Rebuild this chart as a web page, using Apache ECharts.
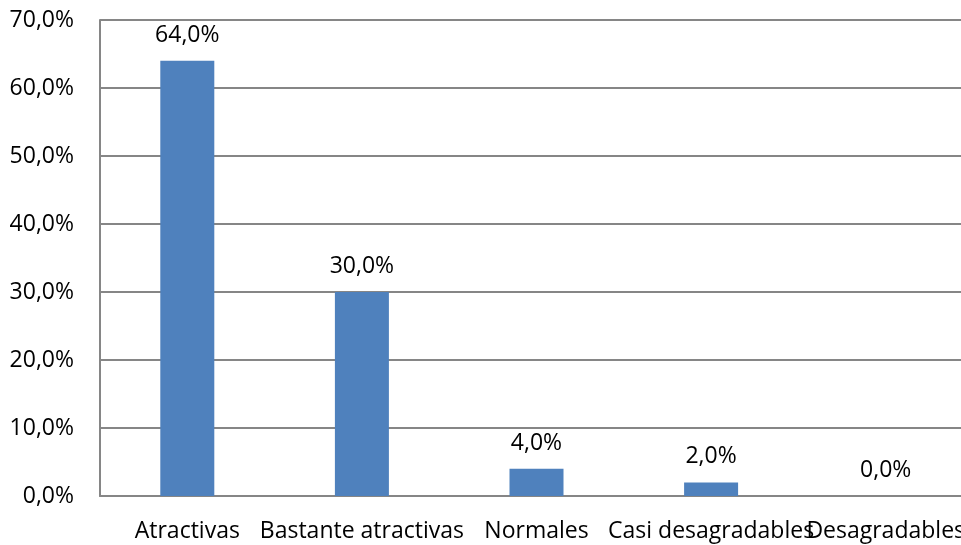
<!DOCTYPE html>
<html>
<head>
<meta charset="utf-8">
<script src="https://cdn.jsdelivr.net/npm/echarts@6/dist/echarts.min.js"></script>
<style>
  html, body { margin: 0; padding: 0; background: #fff; }
  #chart { width: 961px; height: 545px; }
</style>
</head>
<body>
<div id="chart"></div>
<script>
// Survey responses: how attractive the items were rated
const categories = ['Atractivas', 'Bastante atractivas', 'Normales', 'Casi desagradables', 'Desagradables'];
const percentValues = [64.0, 30.0, 4.0, 2.0, 0.0];
const yTicks = [0, 10, 20, 30, 40, 50, 60, 70];

const fmt = v => v.toFixed(1).replace('.', ',') + '%';
const FONT = '"Open Sans", sans-serif';
const FS = 23;

const chart = echarts.init(document.getElementById('chart'), null, { renderer: 'canvas' });
chart.setOption({
  animation: false,
  backgroundColor: '#ffffff',
  // plot area runs slightly past the right edge of the canvas
  grid: { left: 100, width: 873, top: 20, height: 476, outerBoundsMode: 'none' },
  xAxis: {
    type: 'category',
    data: categories,
    axisLine: { lineStyle: { color: '#868686', width: 2 } },
    axisTick: { show: false },
    axisLabel: { color: '#000', fontFamily: FONT, fontSize: FS, margin: 24, interval: 0, hideOverlap: false }
  },
  yAxis: {
    type: 'value',
    min: yTicks[0],
    max: yTicks[yTicks.length - 1],
    interval: 10,
    axisLine: { show: true, lineStyle: { color: '#868686', width: 2 } },
    axisTick: { show: false },
    splitLine: { lineStyle: { color: '#868686', width: 2 } },
    axisLabel: { color: '#000', fontFamily: FONT, fontSize: FS, margin: 26, formatter: v => fmt(v) }
  },
  series: [{
    type: 'bar',
    data: percentValues,
    barWidth: 54,
    itemStyle: { color: '#4f81bd' },
    label: {
      show: true,
      position: 'top',
      distance: 14,
      color: '#000',
      fontFamily: FONT,
      fontSize: FS,
      formatter: p => fmt(p.value)
    }
  }]
});
</script>
</body>
</html>
